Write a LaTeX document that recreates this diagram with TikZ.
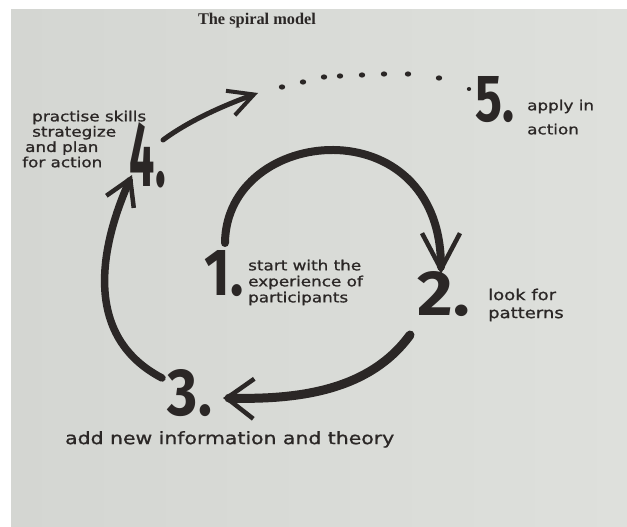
\documentclass[tikz,border=0pt]{standalone}
\usepackage{fontspec}
\setmainfont{Liberation Serif}
\newfontfamily\hand[FakeStretch=1.2,FakeBold=1]{DejaVu Sans}
\newfontfamily\numfont{Fira Sans}
\usetikzlibrary{arrows.meta}
\definecolor{ink}{HTML}{2B2726}
\definecolor{paper}{HTML}{DEE0DC}
\definecolor{paperL}{HTML}{D4D6D2}
\begin{document}
\begin{tikzpicture}[x=1pt,y=-1pt,
  num/.style={inner sep=0pt, text=ink, font=\numfont\bfseries},
  lbl/.style={inner sep=0pt, text=ink, align=left, anchor=north west},
  arc/.style={draw=ink, line width=8pt, line cap=round},
  dotmark/.style={fill=ink}]
\useasboundingbox (0,0) rectangle (627,527);
\fill[white] (0,0) rectangle (627,527);
\shade[left color=paperL, right color=paper] (11,10) rectangle (627,526);

% title
\node[text=ink, inner sep=0pt] (title) at (257,21) {\resizebox{118pt}{!}{\bfseries The spiral model}};

% numbers
\node[num] (n1) at (224,274) {\resizebox{39pt}{45pt}{1.}};
\node[num] (n2) at (444,294) {\resizebox{52pt}{44pt}{2.}};
\node[num] (n3) at (190,393) {\resizebox{44pt}{46pt}{3.}};
\node[num] (n4) at (148,155) {\resizebox{36pt}{64pt}{4.}};
\node[num] (n5) at (495,100) {\resizebox{39pt}{45pt}{5.}};

% labels
\node[lbl, font=\hand\fontsize{14}{15.3}\selectfont] (t4) at (22,110.5)
  {\hspace*{10pt}practise skills\\\hspace*{10pt}strategize\\\hspace*{3pt}and plan\\for action};
\node[lbl, font=\hand\fontsize{14}{16}\selectfont] (t1) at (248,259.5)
  {start with the\\experience of\\participants};
\node[lbl, font=\hand\fontsize{15}{18}\selectfont] (t2) at (488,288.5)
  {look for\\patterns};
\node[lbl, font=\hand\fontsize{14}{24}\selectfont] (t5) at (527,99.5)
  {apply in\\action};
\node[lbl, font=\hand\fontsize{17}{20}\selectfont] (t3) at (65,431)
  {add new information and theory};

% connector end points
\coordinate (s12) at (225,243);
\coordinate (e12) at (441,274);
\coordinate (s23) at (410,335);
\coordinate (e23) at (223,398);
\coordinate (s34) at (162,378);
\coordinate (e34) at (132,175);
\coordinate (s45) at (163,140);
\coordinate (e45) at (258,93);

\draw[arc, -{Straight Barb[length=36pt,width=38pt,line width=4.5pt]}]
  (s12) .. controls (226,125) and (441,105) .. (e12);
\draw[arc, line width=9pt, -{Straight Barb[length=27pt,width=40pt,line width=4.5pt]}]
  (s23) .. controls (370,390) and (300,400) .. (e23);
\draw[arc, line width=7.5pt, -{Straight Barb[length=25pt,width=30pt,line width=4.5pt]}]
  (s34) .. controls (70,330) and (112,220) .. (e34);
\draw[arc, line width=5pt, -{Straight Barb[length=25pt,width=26pt,line width=4pt]}]
  (s45) .. controls (190,120) and (225,105) .. (e45);

% ellipsis dots
\foreach \x/\y in {282/87, 303/82, 324/77, 340/76, 362/75, 384/74, 408/74, 439/78}
  \fill[dotmark] (\x,\y) ellipse (3.2pt and 2.6pt);
\fill[dotmark] (469,89) ellipse (2.2pt and 2pt);
\end{tikzpicture}
\end{document}
